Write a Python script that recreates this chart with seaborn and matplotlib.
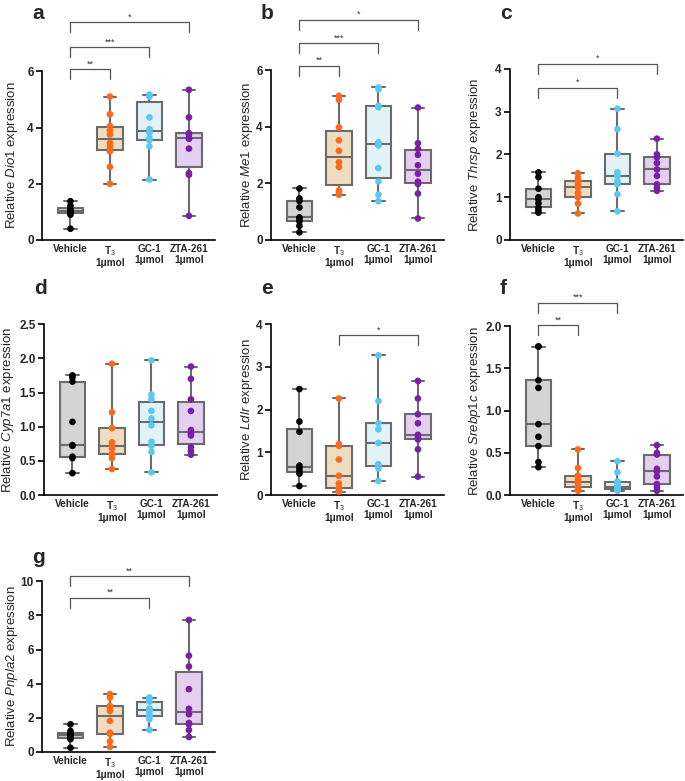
import numpy as np
import pandas as pd
import seaborn as sns
import matplotlib.pyplot as plt

# groups and tick labels
groups = ["Vehicle", "T3", "GC-1", "ZTA-261"]
tick_labels = ["Vehicle", "T$_3$\n1μmol", "GC-1\n1μmol", "ZTA-261\n1μmol"]

box_colors = ["#d4d4d4", "#f6dfba", "#ddf5fb", "#e7c9f6"]
dot_colors = ["#000000", "#ff6a1a", "#5cc7f2", "#7a1fa6"]

# values, one list per group (Vehicle, T3, GC-1, ZTA-261)
dio1 = [[0.4, 0.9, 0.96, 1.0, 1.04, 1.1, 1.22, 1.38],
        [2.0, 2.6, 3.15, 3.3, 3.45, 3.75, 3.9, 4.05, 4.47, 5.1],
        [2.15, 3.33, 3.55, 3.62, 3.82, 3.94, 4.36, 5.1, 5.14, 5.17],
        [0.86, 2.32, 2.38, 3.25, 3.6, 3.62, 3.75, 3.8, 4.36, 5.34]]
me1 = [[0.27, 0.5, 0.66, 0.75, 0.8, 1.15, 1.38, 1.47, 1.82],
       [1.6, 1.68, 1.75, 2.58, 2.75, 3.15, 3.52, 3.98, 4.95, 5.09],
       [1.37, 1.6, 2.07, 2.54, 3.34, 3.45, 4.69, 4.74, 5.32, 5.39],
       [0.76, 1.64, 1.98, 2.06, 2.34, 2.64, 3.01, 3.22, 3.42, 4.68]]
thrsp = [[0.64, 0.7, 0.76, 0.86, 0.95, 1.0, 1.2, 1.47, 1.58],
         [0.62, 0.85, 1.0, 1.1, 1.23, 1.3, 1.39, 1.45, 1.56],
         [0.67, 1.07, 1.3, 1.38, 1.5, 1.58, 2.02, 2.59, 3.07],
         [1.15, 1.22, 1.3, 1.5, 1.65, 1.8, 1.93, 2.0, 2.37]]
cyp7a1 = [[0.32, 0.54, 0.56, 0.72, 0.73, 1.07, 1.66, 1.72, 1.75],
          [0.38, 0.54, 0.6, 0.68, 0.72, 0.77, 0.98, 1.21, 1.92],
          [0.33, 0.63, 0.72, 0.78, 1.02, 1.12, 1.23, 1.4, 1.47, 1.97],
          [0.59, 0.64, 0.7, 0.87, 0.9, 0.95, 1.23, 1.4, 1.7, 1.88]]
ldlr = [[0.21, 0.5, 0.56, 0.62, 0.69, 1.48, 1.72, 2.48],
        [0.08, 0.12, 0.17, 0.27, 0.45, 0.83, 1.15, 1.19, 2.26],
        [0.33, 0.62, 0.68, 0.72, 1.22, 1.54, 1.68, 2.2, 3.27],
        [0.43, 1.07, 1.3, 1.36, 1.41, 1.68, 1.89, 2.26, 2.67]]
srebp1c = [[0.33, 0.39, 0.58, 0.69, 0.84, 1.27, 1.36, 1.76, 1.76],
           [0.05, 0.07, 0.1, 0.14, 0.16, 0.19, 0.23, 0.32, 0.54],
           [0.05, 0.06, 0.07, 0.08, 0.1, 0.12, 0.16, 0.27, 0.4],
           [0.05, 0.09, 0.13, 0.22, 0.28, 0.31, 0.48, 0.5, 0.59]]
pnpla2 = [[0.25, 0.75, 0.85, 0.95, 1.05, 1.1, 1.23, 1.62],
          [0.3, 0.62, 1.05, 1.13, 1.82, 2.4, 2.6, 2.7, 3.19, 3.39],
          [1.29, 1.92, 2.1, 2.3, 2.45, 2.54, 2.95, 3.09, 3.19],
          [0.88, 1.29, 1.62, 1.7, 2.21, 2.53, 3.68, 5.01, 5.64, 7.73]]

# significance brackets: (group i, group j, height, stars)
sig_a = [(0, 3, 7.74, "*"), (0, 2, 6.85, "***"), (0, 1, 6.07, "**")]
sig_b = [(0, 3, 7.77, "*"), (0, 2, 6.95, "***"), (0, 1, 6.14, "**")]
sig_c = [(0, 3, 4.12, "*"), (0, 2, 3.56, "*")]
sig_d = []
sig_e = [(1, 3, 3.74, "*")]
sig_f = [(0, 2, 2.28, "***"), (0, 1, 2.01, "**")]
sig_g = [(0, 3, 10.29, "**"), (0, 2, 9.01, "**")]

sns.set_style("ticks")
plt.rcParams["font.family"] = ["Liberation Sans", "DejaVu Sans"]
plt.rcParams["mathtext.fontset"] = "custom"
plt.rcParams["mathtext.rm"] = "Liberation Sans"
plt.rcParams["mathtext.it"] = "Liberation Sans:italic"
plt.rcParams["mathtext.bf"] = "Liberation Sans:bold"

W, H = 685, 781
fig = plt.figure(figsize=(W / 100, H / 100), dpi=100)

# letter, gene, values, yticks, ymax, brackets, left px, bottom px, top px, decimals, ylabel right edge px
panels = [
    ("a", "Dio1", dio1, [0, 2, 4, 6], 8.0, sig_a, 42, 240, 15, 0, 20),
    ("b", "Me1", me1, [0, 2, 4, 6], 7.95, sig_b, 271, 240, 15, 0, 255),
    ("c", "Thrsp", thrsp, [0, 1, 2, 3, 4], 5.26, sig_c, 510, 240, 15, 0, 483),
    ("d", "Cyp7a1", cyp7a1, [0, 0.5, 1.0, 1.5, 2.0, 2.5], 3.0, sig_d, 44, 495, 290, 1, 16),
    ("e", "Ldlr", ldlr, [0, 1, 2, 3, 4], 4.8, sig_e, 271, 495, 290, 0, 255),
    ("f", "Srebp1c", srebp1c, [0, 0.5, 1.0, 1.5, 2.0], 2.43, sig_f, 510, 495, 290, 1, 483),
    ("g", "Pnpla2", pnpla2, [0, 2, 4, 6, 8, 10], 11.3, sig_g, 42, 752, 559, 0, 20),
]

line_col = "#6b6b6b"
AW = 173
for letter, gene, vals, yticks, ymax, sigs, L, y0, top, dec, lab_x in panels:
    ax = fig.add_axes([L / W, (H - y0) / H, AW / W, (y0 - top) / H])
    df = pd.DataFrame({
        "group": np.repeat(groups, [len(v) for v in vals]),
        "value": np.concatenate(vals),
    })
    sns.boxplot(data=df, x="group", y="value", hue="group", order=groups,
                hue_order=groups, palette=box_colors, whis=(0, 100), width=0.65,
                linecolor=line_col, linewidth=1.5, fliersize=0, legend=False, ax=ax)
    sns.stripplot(data=df, x="group", y="value", hue="group", order=groups,
                  hue_order=groups, palette=dot_colors, jitter=False, size=4.8,
                  legend=False, zorder=3, ax=ax)
    ax.set_xlim(-0.72, 3.66)
    ax.set_ylim(0, ymax)
    ax.set_xlabel("")
    ax.set_ylabel(f"Relative $\\mathit{{{gene}}}$ expression", fontsize=9.5)
    ax.yaxis.set_label_coords((lab_x - L) / AW, yticks[-1] / 2 / ymax)
    ax.set_xticks(range(4))
    ax.set_xticklabels(tick_labels, fontweight="bold", fontsize=7.2, linespacing=1.05)
    ax.set_yticks(yticks)
    ax.set_yticklabels([f"{t:.{dec}f}" for t in yticks], fontweight="bold", fontsize=8.5)
    ax.tick_params(axis="x", length=0, pad=3)
    ax.tick_params(axis="y", length=4, width=1.2, pad=2, color="black")
    for s in ["top", "right"]:
        ax.spines[s].set_visible(False)
    ax.spines["left"].set_bounds(0, yticks[-1])
    ax.spines["left"].set_linewidth(1.2)
    ax.spines["bottom"].set_linewidth(1.2)
    ax.spines["left"].set_color("black")
    ax.spines["bottom"].set_color("black")

    drop = 10 / (y0 - top) * ymax
    for i, j, h, stars in sigs:
        ax.plot([i, i, j, j], [h - drop, h, h, h - drop], color="#555555",
                lw=0.9, clip_on=False)
        ax.text((i + j) / 2, h + drop * 0.1, stars, ha="center", va="bottom",
                fontsize=6.5, color="#333333")

    fig.text((L - 10) / W, 1 - (top + 4) / H, letter, fontsize=15,
             fontweight="bold", ha="left", va="baseline")

fig.savefig("out.png", dpi=100)
